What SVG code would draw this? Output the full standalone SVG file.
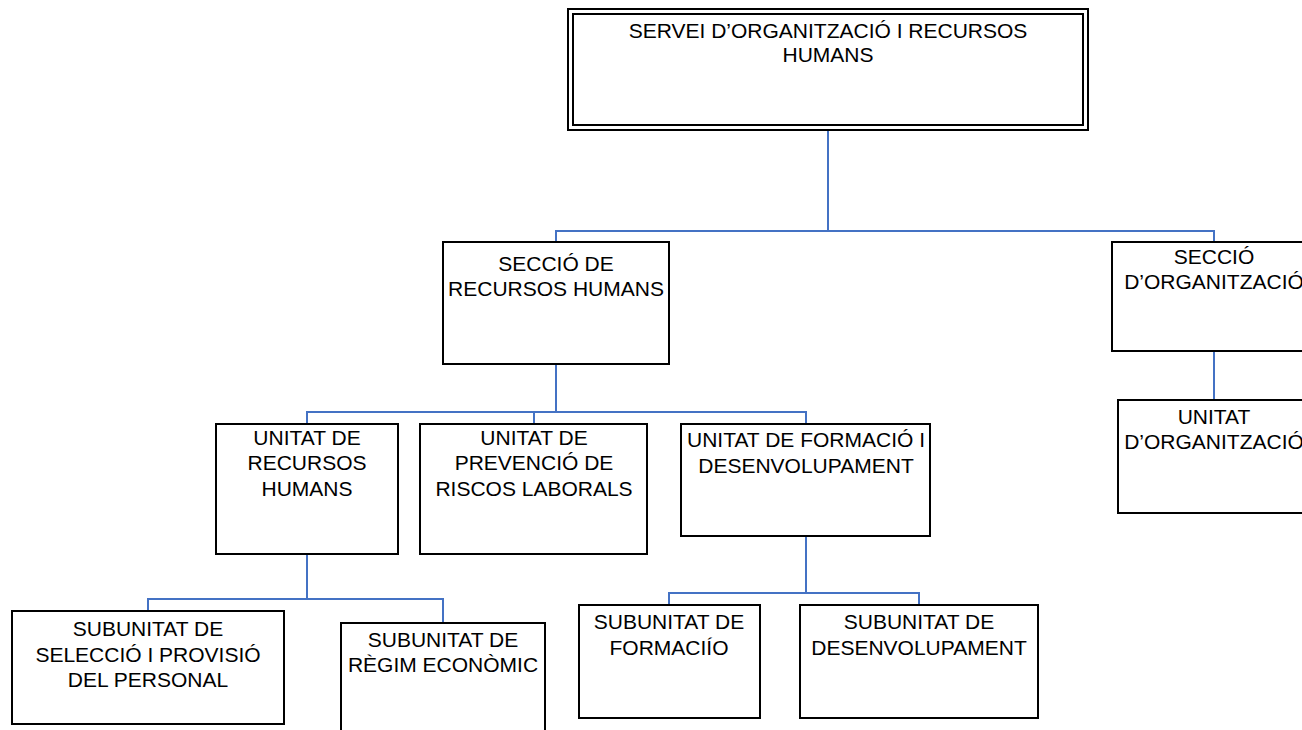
<svg xmlns="http://www.w3.org/2000/svg" width="1302" height="730" viewBox="0 0 1302 730">
<style>
.box{fill:#fff;stroke:#000;stroke-width:2}
.c{fill:none;stroke:#4472C4;stroke-width:2}
text{font-family:"Liberation Sans",Arial,sans-serif;font-size:21px;fill:#000;text-anchor:middle}
</style>
<rect width="1302" height="730" fill="#fff"/>
<g id="connectors">
<polyline class="c" points="828,130 828,231"/>
<polyline class="c" points="556,242 556,231 1214,231 1214,242"/>
<polyline class="c" points="1214,351 1214,400"/>
<polyline class="c" points="556,364 556,412"/>
<polyline class="c" points="307,424 307,412 806,412 806,424"/>
<polyline class="c" points="534,412 534,424"/>
<polyline class="c" points="307,554 307,599"/>
<polyline class="c" points="148,611 148,599 443,599 443,623"/>
<polyline class="c" points="806,536 806,593"/>
<polyline class="c" points="669,605 669,593 919,593 919,605"/>
</g>
<g id="servei">
<rect class="box" x="568" y="9" width="520" height="121"/>
<rect class="box" x="573" y="14" width="510" height="111"/>
<text x="828" y="38">SERVEI D’ORGANITZACIÓ I RECURSOS</text>
<text x="828" y="62">HUMANS</text>
</g>
<g id="seccio-rh">
<rect class="box" x="443" y="242" width="226" height="122"/>
<text x="556" y="271">SECCIÓ DE</text>
<text x="556" y="296">RECURSOS HUMANS</text>
</g>
<g id="seccio-org">
<rect class="box" x="1112" y="242" width="204" height="109"/>
<text x="1214" y="264">SECCIÓ</text>
<text x="1214" y="289">D’ORGANITZACIÓ</text>
</g>
<g id="unitat-org">
<rect class="box" x="1118" y="400" width="198" height="113"/>
<text x="1214" y="424">UNITAT</text>
<text x="1214" y="449">D’ORGANITZACIÓ</text>
</g>
<g id="unitat-rh">
<rect class="box" x="216" y="424" width="182" height="130"/>
<text x="307" y="445">UNITAT DE</text>
<text x="307" y="470">RECURSOS</text>
<text x="307" y="496">HUMANS</text>
</g>
<g id="unitat-prev">
<rect class="box" x="420" y="424" width="227" height="130"/>
<text x="534" y="445">UNITAT DE</text>
<text x="534" y="470">PREVENCIÓ DE</text>
<text x="534" y="496">RISCOS LABORALS</text>
</g>
<g id="unitat-form">
<rect class="box" x="681" y="424" width="249" height="112"/>
<text x="806" y="447">UNITAT DE FORMACIÓ I</text>
<text x="806" y="473">DESENVOLUPAMENT</text>
</g>
<g id="sub-seleccio">
<rect class="box" x="12" y="611" width="272" height="113"/>
<text x="148" y="636">SUBUNITAT DE</text>
<text x="148" y="662">SELECCIÓ I PROVISIÓ</text>
<text x="148" y="687">DEL PERSONAL</text>
</g>
<g id="sub-regim">
<rect class="box" x="341" y="623" width="204" height="112"/>
<text x="443" y="647">SUBUNITAT DE</text>
<text x="443" y="672">RÈGIM ECONÒMIC</text>
</g>
<g id="sub-formacio">
<rect class="box" x="579" y="605" width="181" height="113"/>
<text x="669" y="629">SUBUNITAT DE</text>
<text x="669" y="655">FORMACIÍO</text>
</g>
<g id="sub-desenv">
<rect class="box" x="800" y="605" width="238" height="113"/>
<text x="919" y="629">SUBUNITAT DE</text>
<text x="919" y="655">DESENVOLUPAMENT</text>
</g>
</svg>
